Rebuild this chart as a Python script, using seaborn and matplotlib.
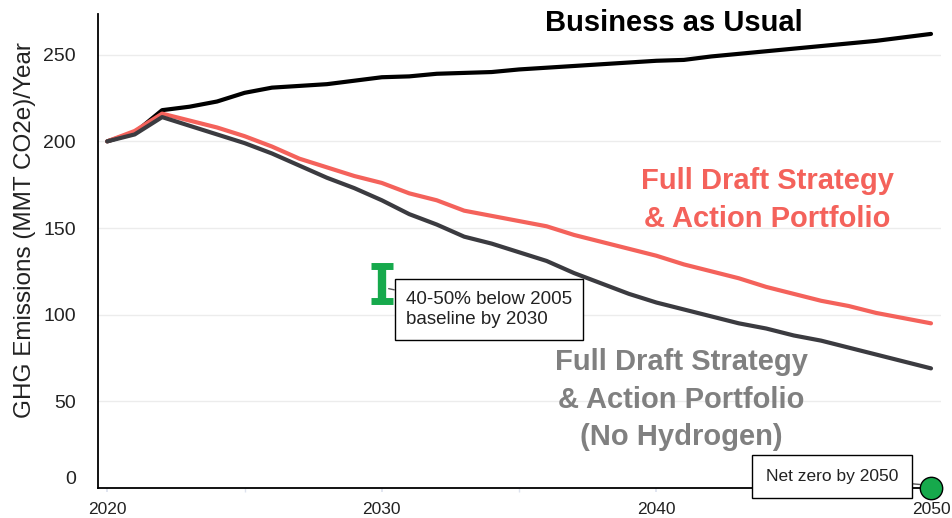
import numpy as np
import pandas as pd
import matplotlib
matplotlib.use("Agg")
import matplotlib.pyplot as plt
import seaborn as sns

years = list(range(2020, 2051))
bau = [200, 205, 218, 220, 223, 228, 231, 232, 233, 235, 237, 237.5, 239, 239.5, 240,
       241.5, 242.5, 243.5, 244.5, 245.5, 246.5, 247, 249, 250.5, 252, 253.5, 255, 256.5,
       258, 260, 262]
full = [200, 206, 216, 212, 208, 203, 197, 190, 185, 180, 176, 170, 166, 160, 157,
        154, 151, 146, 142, 138, 134, 129, 125, 121, 116, 112, 108, 105, 101, 98, 95]
noh2 = [200, 204, 214, 209, 204, 199, 193, 186, 179, 173, 166, 158, 152, 145, 141,
        136, 131, 124, 118, 112, 107, 103, 99, 95, 92, 88, 85, 81, 77, 73, 69]
series_names = ["Business as Usual", "Full Draft Strategy", "No Hydrogen"]
target_year = 2030
target_low, target_high = 108, 128
netzero_year, netzero_value = 2050, 0
xticks = [2020, 2030, 2040, 2050]
yticks = [0, 50, 100, 150, 200, 250]

df = pd.DataFrame({
    "year": years * 3,
    "value": bau + full + noh2,
    "series": [series_names[0]] * len(years) + [series_names[1]] * len(years) + [series_names[2]] * len(years),
})

sns.set_theme(style="white")
plt.rcParams['font.family'] = ['Liberation Sans', 'DejaVu Sans']

fig, ax = plt.subplots(figsize=(9.53, 5.18), dpi=100)
fig.subplots_adjust(left=0.103, right=0.987, bottom=0.058, top=0.973)

palette = {series_names[0]: "#000000", series_names[1]: "#f4625b", series_names[2]: "#3b3b40"}
sns.lineplot(data=df, x="year", y="value", hue="series", palette=palette, linewidth=3,
             legend=False, ax=ax)

ax.set_xlim(2019.67, 2050.35)
ax.set_ylim(0, 273.5)
ax.set_xticks(xticks)
ax.set_xticks([2025, 2035, 2045], minor=True)
ax.set_yticks(yticks)
ax.yaxis.grid(True, color="#ececec", linewidth=1)
ax.xaxis.grid(False)
for s in ["top", "right"]:
    ax.spines[s].set_visible(False)
for s in ["left", "bottom"]:
    ax.spines[s].set_color("#000000")
    ax.spines[s].set_linewidth(1.3)
ax.tick_params(axis="x", which="both", bottom=True, length=3, color="#dde2ee", labelsize=12.5, pad=7, labelcolor="#222222")
ax.tick_params(axis="y", left=False, labelsize=14, labelcolor="#222222", pad=10)
ax.set_xlabel("")
ax.set_ylabel("GHG Emissions (MMT CO2e)/Year", fontsize=17.5, color="#222222")
ax.yaxis.set_label_coords(-0.074, 0.545)
for lbl in ax.get_yticklabels():
    if lbl.get_text() == "0":
        lbl.set_va("bottom")

ax.text(2040.65, 268.5, "Business as Usual", fontsize=21, fontweight="bold", color="#000000",
        ha="center", va="center")
ax.text(2044.05, 166, "Full Draft Strategy\n& Action Portfolio", fontsize=21, fontweight="bold",
        color="#f4625b", ha="center", va="center", linespacing=1.45)
ax.text(2040.9, 51, "Full Draft Strategy\n& Action Portfolio\n(No Hydrogen)", fontsize=21,
        fontweight="bold", color="#808080", ha="center", va="center", linespacing=1.45)

# target marker
ax.errorbar([target_year], [(target_low + target_high) / 2],
            yerr=[[(target_high - target_low) / 2]], fmt="none", ecolor="#16a94c",
            elinewidth=6, capsize=8, capthick=5, zorder=5)
ax.annotate("40-50% below 2005\nbaseline by 2030", xy=(target_year + 0.25, 115),
            xytext=(2030.88, 103), fontsize=13.5, color="#222222", va="center", ha="left",
            linespacing=1.3,
            bbox=dict(boxstyle="square,pad=0.6", fc="white", ec="#000000", lw=1),
            arrowprops=dict(arrowstyle="-", color="#555555", lw=1, shrinkA=0, shrinkB=0),
            zorder=6)

# net zero marker
ax.scatter([netzero_year], [netzero_value], s=260, color="#16a94c", edgecolor="#000000",
           linewidth=1, zorder=7, clip_on=False)
ax.annotate("Net zero by 2050", xy=(netzero_year - 0.4, 2), xytext=(2046.4, 6.5),
            fontsize=12.5, color="#222222", va="center", ha="center",
            bbox=dict(boxstyle="square,pad=0.8", fc="white", ec="#000000", lw=1),
            arrowprops=dict(arrowstyle="-", color="#555555", lw=1, shrinkA=0, shrinkB=0),
            zorder=6, annotation_clip=False)

fig.savefig("out.png", dpi=100)
